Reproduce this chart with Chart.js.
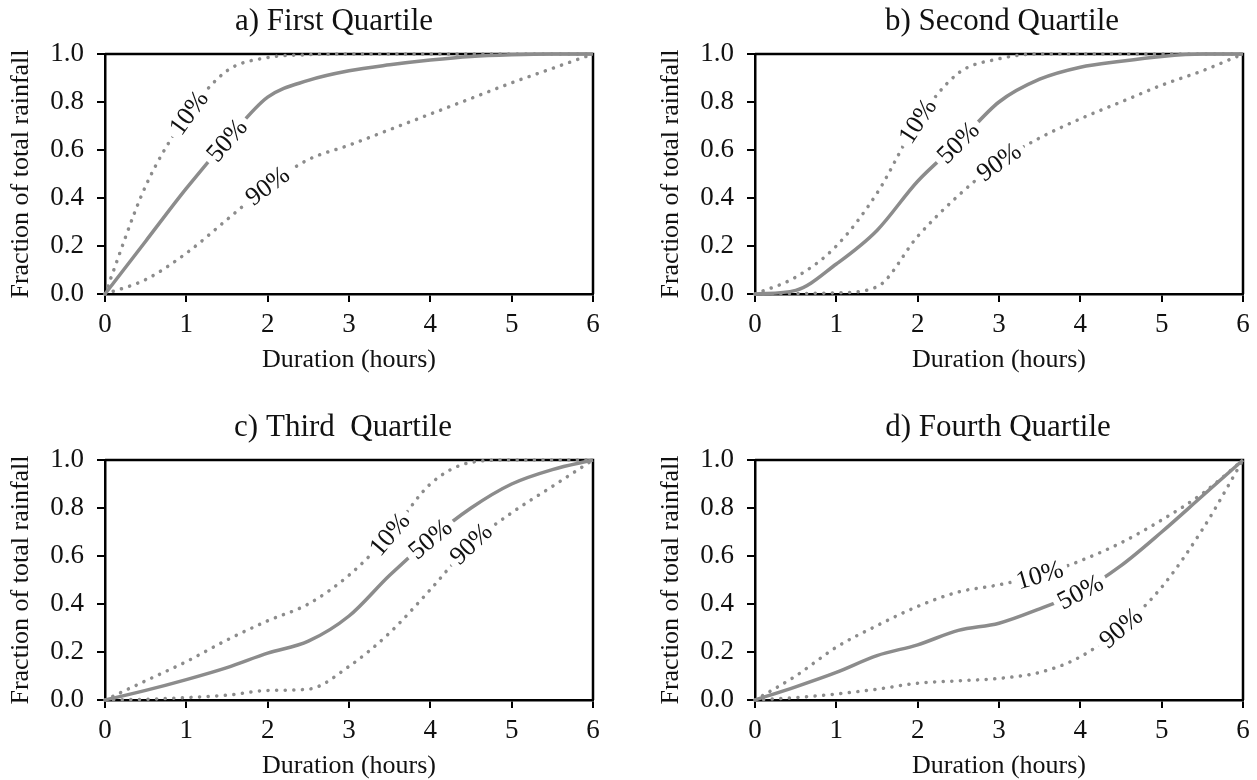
<!DOCTYPE html>
<html>
<head>
<meta charset="utf-8">
<script src="https://cdn.jsdelivr.net/npm/chart.js@4.4.1/dist/chart.umd.min.js"></script>
<style>
  html, body { margin: 0; padding: 0; background: #fff; }
  body { position: relative; width: 1257px; height: 780px; overflow: hidden; }
  .panel { position: absolute; }
</style>
</head>
<body>
<div class="panel" style="left:0;top:0"><canvas id="chartA" width="628" height="390"></canvas></div>
<div class="panel" style="left:650px;top:0"><canvas id="chartB" width="628" height="390"></canvas></div>
<div class="panel" style="left:0;top:406px"><canvas id="chartC" width="628" height="390"></canvas></div>
<div class="panel" style="left:650px;top:406px"><canvas id="chartD" width="628" height="390"></canvas></div>
<script>
// duration (hours) shared by all curves
const hours = [0, 0.5, 1, 1.5, 2, 2.5, 3, 3.5, 4, 4.5, 5, 5.5, 6];
const yTicks = [0, 0.2, 0.4, 0.6, 0.8, 1.0];
const curveNames = ['10%', '50%', '90%'];

// a) First Quartile
const firstP10 = [0, 0.45, 0.74, 0.93, 0.985, 0.997, 1, 1, 1, 1, 1, 1, 1];
const firstP50 = [0, 0.22, 0.44, 0.64, 0.82, 0.89, 0.93, 0.955, 0.975, 0.99, 0.997, 1, 1];
const firstP90 = [0, 0.06, 0.17, 0.31, 0.45, 0.56, 0.62, 0.685, 0.75, 0.815, 0.88, 0.94, 1];

// b) Second Quartile
const secondP10 = [0, 0.07, 0.2, 0.42, 0.72, 0.92, 0.98, 1, 1, 1, 1, 1, 1];
const secondP50 = [0, 0.015, 0.125, 0.265, 0.47, 0.63, 0.8, 0.895, 0.945, 0.97, 0.99, 1, 1];
const secondP90 = [0, 0.002, 0.005, 0.03, 0.24, 0.41, 0.55, 0.65, 0.73, 0.8, 0.87, 0.93, 1];

// c) Third Quartile
const thirdP10 = [0, 0.08, 0.16, 0.25, 0.33, 0.4, 0.52, 0.69, 0.9, 0.99, 1, 1, 1];
const thirdP50 = [0, 0.04, 0.085, 0.135, 0.195, 0.245, 0.35, 0.52, 0.67, 0.8, 0.9, 0.96, 1];
const thirdP90 = [0, 0.003, 0.01, 0.02, 0.04, 0.045, 0.14, 0.28, 0.46, 0.65, 0.78, 0.89, 1];

// d) Fourth Quartile
const fourthP10 = [0, 0.1, 0.22, 0.31, 0.39, 0.45, 0.48, 0.52, 0.58, 0.655, 0.75, 0.86, 1];
const fourthP50 = [0, 0.055, 0.115, 0.185, 0.23, 0.29, 0.32, 0.38, 0.45, 0.56, 0.7, 0.85, 1];
const fourthP90 = [0, 0.01, 0.025, 0.045, 0.07, 0.08, 0.09, 0.115, 0.18, 0.3, 0.47, 0.71, 1];

// where the 10% / 50% / 90% labels sit along each curve (hours)
const labelHoursA = [1.03, 1.5, 2.0];
const labelHoursB = [2.0, 2.5, 3.0];
const labelHoursC = [3.5, 4.0, 4.5];
const labelHoursD = [3.5, 4.0, 4.5];

const GREY = '#8c8c8c';
const INK = '#111';
const SERIF = '"Liberation Serif", "Times New Roman", serif';

// box frame (top + right edges) behind the curves
const framePlugin = {
    id: 'frame',
    beforeDatasetsDraw(chart) {
        const { ctx, chartArea: a } = chart;
        ctx.save();
        ctx.strokeStyle = '#000';
        ctx.lineWidth = 2.5;
        ctx.beginPath();
        ctx.moveTo(a.left, a.top);
        ctx.lineTo(a.right, a.top);
        ctx.lineTo(a.right, a.bottom);
        ctx.stroke();
        ctx.restore();
    }
};

// inline curve labels, rotated along the curve, plus the panel title
const curveLabelPlugin = {
    id: 'curveLabels',
    afterDatasetsDraw(chart, args, opts) {
        const { ctx, scales: { x } } = chart;
        ctx.save();
        ctx.font = '26px ' + SERIF;
        ctx.textAlign = 'center';
        ctx.textBaseline = 'middle';
        opts.hours.forEach((h, i) => {
            const line = chart.getDatasetMeta(i).dataset;
            const px = x.getPixelForValue(h);
            const p = line.interpolate({ x: px }, 'x');
            const p1 = line.interpolate({ x: px - 12 }, 'x');
            const p2 = line.interpolate({ x: px + 12 }, 'x');
            if (!p || !p1 || !p2) return;
            const ang = Math.atan2(p2.y - p1.y, p2.x - p1.x);
            const text = curveNames[i];
            const w = ctx.measureText(text).width + 10;
            ctx.save();
            ctx.translate(p.x, p.y);
            ctx.rotate(ang);
            ctx.fillStyle = '#fff';
            ctx.fillRect(-w / 2, -10, w, 20);
            ctx.fillStyle = INK;
            ctx.fillText(text, 0, 1);
            ctx.restore();
        });
        ctx.restore();
    },
    afterDraw(chart, args, opts) {
        const { ctx, chartArea: a } = chart;
        ctx.save();
        ctx.font = '31px ' + SERIF;
        ctx.fillStyle = INK;
        ctx.textAlign = 'center';
        ctx.textBaseline = 'middle';
        ctx.fillText(opts.title, (a.left + a.right) / 2 + opts.shift, 22);
        ctx.restore();
    }
};

function series(values, dotted) {
    return {
        data: hours.map((h, i) => ({ x: h, y: values[i] })),
        borderColor: GREY,
        borderWidth: 3.5,
        borderDash: dotted ? [0.1, 8.5] : [],
        borderCapStyle: dotted ? 'round' : 'butt',
        cubicInterpolationMode: 'monotone',
        pointRadius: 0,
        fill: false,
        clip: 6
    };
}

function makeChart(id, title, shift, p10, p50, p90, labelHours) {
    const tickFont = { family: SERIF, size: 27 };
    const titleFont = { family: SERIF, size: 26 };
    return new Chart(document.getElementById(id), {
        type: 'line',
        data: {
            datasets: [series(p10, true), series(p50, false), series(p90, true)]
        },
        options: {
            responsive: false,
            animation: false,
            events: [],
            layout: { padding: { top: 54, left: 0, right: 35, bottom: 14 } },
            plugins: {
                legend: { display: false },
                tooltip: { enabled: false },
                curveLabels: { hours: labelHours, title: title, shift: shift }
            },
            scales: {
                x: {
                    type: 'linear',
                    min: 0,
                    max: 6,
                    ticks: { stepSize: 1, padding: 7, color: INK, font: tickFont, maxRotation: 0 },
                    grid: { drawOnChartArea: false, tickLength: 8, color: '#000', lineWidth: 2 },
                    border: { color: '#000', width: 2.5 },
                    title: { display: true, text: 'Duration (hours)', color: INK, font: titleFont, padding: 0 },
                    afterFit: s => { s.height = 82; }
                },
                y: {
                    min: 0,
                    max: 1,
                    afterBuildTicks: s => { s.ticks = yTicks.map(v => ({ value: v })); },
                    ticks: { padding: 13, color: INK, font: tickFont, callback: v => v.toFixed(1) },
                    grid: { drawOnChartArea: false, tickLength: 8, color: '#000', lineWidth: 2 },
                    border: { color: '#000', width: 2.5 },
                    title: { display: true, text: 'Fraction of total rainfall', color: INK, font: titleFont, padding: { top: 6, bottom: 0 } },
                    afterFit: s => { s.width = 105; }
                }
            }
        },
        plugins: [framePlugin, curveLabelPlugin]
    });
}

makeChart('chartA', 'a) First Quartile', -15, firstP10, firstP50, firstP90, labelHoursA);
makeChart('chartB', 'b) Second Quartile', 3, secondP10, secondP50, secondP90, labelHoursB);
makeChart('chartC', 'c) Third  Quartile', -6, thirdP10, thirdP50, thirdP90, labelHoursC);
makeChart('chartD', 'd) Fourth Quartile', -1, fourthP10, fourthP50, fourthP90, labelHoursD);
</script>
</body>
</html>
